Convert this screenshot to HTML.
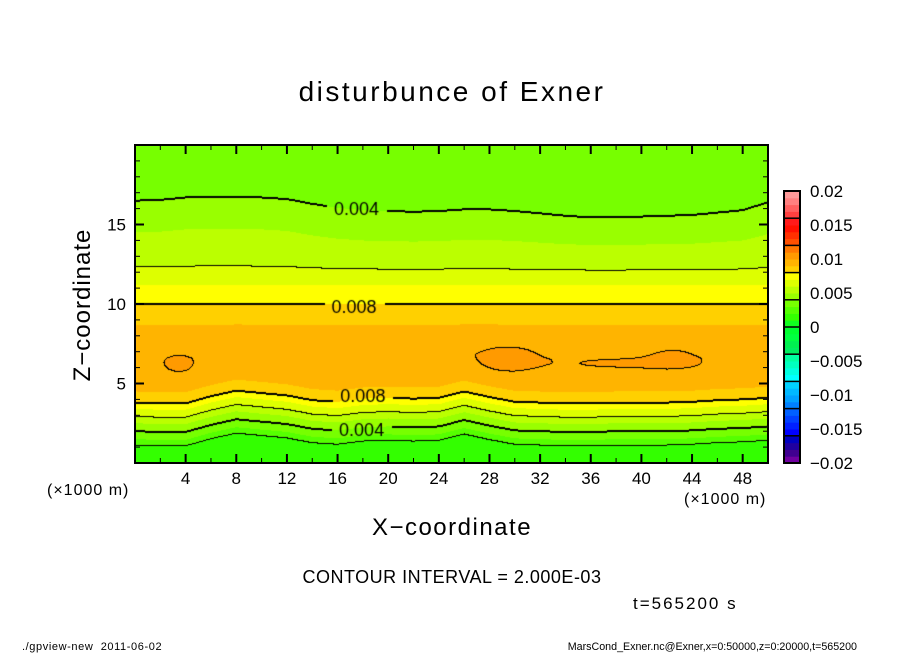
<!DOCTYPE html>
<html><head><meta charset="utf-8">
<style>
body{margin:0;background:#fff;}
#wrap{position:relative;width:904px;height:654px;overflow:hidden;font-family:"Liberation Sans",sans-serif;color:#000;}
.t{position:absolute;white-space:nowrap;}
canvas{position:absolute;}
</style></head><body>
<div id="wrap">
<div class="t" style="left:0;width:904px;text-align:center;top:76px;font-size:28px;letter-spacing:2.5px;">disturbunce of Exner</div>
<canvas id="plot" width="633" height="318" style="left:135px;top:145px;"></canvas>
<svg id="axes" width="904" height="654" style="position:absolute;left:0;top:0;"></svg>
<div class="t" style="left:47px;top:482px;font-size:16px;letter-spacing:1px;">(×1000 m)</div>
<div class="t" style="left:684px;top:491px;font-size:16px;letter-spacing:1px;">(×1000 m)</div>
<div class="t" style="left:0;width:904px;text-align:center;top:514px;font-size:24px;letter-spacing:1.5px;">X−coordinate</div>
<div class="t" style="left:83px;top:305px;font-size:24px;letter-spacing:1px;transform:translate(-50%,-50%) rotate(-90deg);">Z−coordinate</div>
<div class="t" style="left:0;width:904px;text-align:center;top:567px;font-size:18px;letter-spacing:0.5px;">CONTOUR INTERVAL = 2.000E-03</div>
<div class="t" style="left:633px;top:594px;font-size:17px;letter-spacing:2px;">t=565200 s</div>
<div class="t" style="left:22px;top:641px;font-size:11px;letter-spacing:0.6px;">./gpview-new &nbsp;2011-06-02</div>
<div class="t" style="right:47px;top:641px;font-size:10.7px;">MarsCond_Exner.nc@Exner,x=0:50000,z=0:20000,t=565200</div>
</div>
<script>
// ---- data ----
const profileZ = [0,0.5,1.1,1.5,2.0,2.5,2.9,3.4,3.8,4.5,5.5,6.5,7.5,8.7,9.4,10.0,11.2,12.3,14.5,16.5,18.5,20];
const profileV = [0.0012,0.0016,0.002,0.003,0.004,0.005,0.006,0.007,0.008,0.009,0.0095,0.0097,0.0095,0.009,0.0085,0.008,0.007,0.006,0.005,0.004,0.0035,0.0032];
const dispX = [0,2,4,6,8,10,12,14,16,18,20,22,24,26,28,30,32,34,36,38,40,42,44,46,48,50];
const dispLow = [0,-0.05,-0.05,0.4,0.75,0.6,0.45,0.15,0.05,0.25,0.3,0.25,0.3,0.7,0.35,0.05,0,-0.05,-0.05,0,0,0,0.05,0.15,0.2,0.3];
const dispHigh = [0,0.05,0.2,0.25,0.25,0.2,0.1,-0.2,-0.45,-0.6,-0.65,-0.7,-0.65,-0.55,-0.55,-0.65,-0.8,-0.95,-1.05,-1.05,-1.0,-0.95,-0.9,-0.75,-0.6,-0.1];
const blobX = [3.5,29.5,39,42.5];
const blobZ = [6.2,6.5,6.2,6.6];
const blobSX = [0.9,1.96,4.3,1.5];
const blobSZ = [0.43,0.7,0.3,0.5];
const blobAmp = [0.0008,0.0008,0.0005,0.0006];
const levelColors = ["#7000a0","#400090","#2000a0","#0000c0","#0000ff","#0020ff","#0040ff","#0060ff","#0080ff","#00a0ff","#00b8ff","#00d0ff","#00ffff","#00ffe0","#00ffc0","#00ffa0","#00ee60","#00f050","#00ff40","#00ff30","#10ff20","#33ff00","#55ff00","#77ff00","#99ff00","#bbff00","#ddff00","#ffff00","#ffd000","#ffb400","#ff9a00","#ff7800","#ff5000","#ff3000","#ff1000","#ff1a1a","#ff4040","#ff6060","#ff8080","#ff9a9a"];
const xTicks = [4,8,12,16,20,24,28,32,36,40,44,48];
const zTicks = [5,10,15];
const cbTicks = [0.02,0.015,0.01,0.005,0,-0.005,-0.01,-0.015,-0.02];
const cbTickLabels = ["0.02","0.015","0.01","0.005","0","−0.005","−0.01","−0.015","−0.02"];
const contourLabels = [[17.5,16.0,"0.004"],[17.3,9.8,"0.008"],[18,4.2,"0.008"],[17.9,2.1,"0.004"]];
// ---- axes ----
const X0=135,X1=768,Y0=463,Y1=145, xMax=50, zMax=20;
const sx = x => X0 + x/xMax*(X1-X0);
const sz = z => Y0 - z/zMax*(Y0-Y1);
function interp(xs,ys,x){ if(x<=xs[0])return ys[0]; for(let i=1;i<xs.length;i++){ if(x<=xs[i]){const t=(x-xs[i-1])/(xs[i]-xs[i-1]);return ys[i-1]+t*(ys[i]-ys[i-1]);} } return ys[ys.length-1]; }
function ss(a,b,v){let t=Math.min(1,Math.max(0,(v-a)/(b-a)));return t*t*(3-2*t);}
function field(x,z){
  const wl=1-ss(5,9,z), wh=ss(11,15,z);
  const d=interp(dispX,dispLow,x)*wl+interp(dispX,dispHigh,x)*wh;
  let v=interp(profileZ,profileV,z-d);
  for(let i=0;i<blobX.length;i++){const a=(x-blobX[i])/blobSX[i],b=(z-blobZ[i])/blobSZ[i];v+=blobAmp[i]*Math.exp(-(a*a+b*b)/2);}
  return v;
}
const cv=document.getElementById('plot'),ctx=cv.getContext('2d');
const W=cv.width,H=cv.height,img=ctx.createImageData(W,H);
function hex(c){return [parseInt(c.substr(1,2),16),parseInt(c.substr(3,2),16),parseInt(c.substr(5,2),16)];}
const cols=levelColors.map(hex);
const F=[];
for(let j=0;j<H;j++){F.push([]);for(let i=0;i<W;i++){F[j].push(field((i+0.5)/W*xMax,(H-j-0.5)/H*zMax));}}
const lab=contourLabels.map(l=>{const cx=sx(l[0])-X0,cy=sz(l[1])-Y1;return [cx-30,cy-10,cx+30,cy+10];});
function inLab(i,j){return lab.some(b=>i>=b[0]&&i<=b[2]&&j>=b[1]&&j<=b[3]);}
const black=new Uint8Array(W*H);
for(let j=0;j<H;j++)for(let i=0;i<W;i++){
  const L=Math.floor(F[j][i]/0.002);
  const check=(ii,jj)=>{const L2=Math.floor(F[jj][ii]/0.002);if(L2!==L){const lv=Math.max(L,L2);const thick=(lv%2===0);black[j*W+i]=1;if(thick){black[jj*W+ii]=1;}}};
  if(i+1<W)check(i+1,j); if(j+1<H)check(i,j+1);
}
for(let j=0;j<H;j++)for(let i=0;i<W;i++){
  let k=Math.floor(F[j][i]/0.001)+20;k=Math.max(0,Math.min(39,k));
  let c=cols[k];const p=(j*W+i)*4;
  if(black[j*W+i]&&!inLab(i,j))c=[0,0,0];
  img.data[p]=c[0];img.data[p+1]=c[1];img.data[p+2]=c[2];img.data[p+3]=255;
}
ctx.putImageData(img,0,0);
ctx.fillStyle="#000";ctx.font="18px 'Liberation Sans',sans-serif";ctx.textAlign="center";ctx.textBaseline="middle";
contourLabels.forEach(l=>ctx.fillText(l[2],sx(l[0])-X0,sz(l[1])-Y1+1));
// ---- svg axes ----
const NS="http://www.w3.org/2000/svg",svg=document.getElementById('axes');
function el(t,a,txt){const e=document.createElementNS(NS,t);for(const k in a)e.setAttribute(k,a[k]);if(txt!==undefined)e.textContent=txt;svg.appendChild(e);return e;}
const fr=el('rect',{x:X0,y:Y1,width:X1-X0,height:Y0-Y1,fill:'none',stroke:'#000','stroke-width':2});


for(let x=2;x<xMax;x+=2){const big=x%4===0,len=big?9:5;
  el('line',{x1:sx(x),x2:sx(x),y1:Y0,y2:Y0-len,stroke:'#000','stroke-width':big?2:1});
  el('line',{x1:sx(x),x2:sx(x),y1:Y1,y2:Y1+len,stroke:'#000','stroke-width':big?2:1});}
for(let z=1;z<zMax;z++){const big=z%5===0,len=big?9:5;
  el('line',{x1:X0,x2:X0+len,y1:sz(z),y2:sz(z),stroke:'#000','stroke-width':big?2:1});
  el('line',{x1:X1,x2:X1-len,y1:sz(z),y2:sz(z),stroke:'#000','stroke-width':big?2:1});}
xTicks.forEach(x=>{const t=el('text',{x:sx(x),y:484,'text-anchor':'middle','font-size':17,'font-family':'Liberation Sans, sans-serif'},String(x));
  
  });
zTicks.forEach(z=>{const t=el('text',{x:126,y:sz(z)+6,'text-anchor':'end','font-size':17,'font-family':'Liberation Sans, sans-serif'},String(z));
  
  });
// colorbar
const CB0=463,CB1=191,CBX=784,CBW=16;
const cy=v=>CB0-(v+0.02)/0.04*(CB0-CB1);
levelColors.forEach((c,k)=>{const v0=-0.02+k*0.001;const r=el('rect',{x:CBX,y:cy(v0+0.001),width:CBW,height:cy(v0)-cy(v0+0.001)+0.5,fill:c});
  
  });
for(let v=-0.016;v<0.0165;v+=0.004){el('line',{x1:CBX,x2:CBX+CBW,y1:cy(v),y2:cy(v),stroke:'#000','stroke-width':1.5});}
const cbf=el('rect',{x:CBX,y:CB1,width:CBW,height:CB0-CB1,fill:'none',stroke:'#000','stroke-width':2});


cbTicks.forEach((v,i)=>{const t=el('text',{x:810,y:cy(v)+6,'font-size':17,'font-family':'Liberation Sans, sans-serif'},cbTickLabels[i]);
  
  });
</script>
</body></html>
